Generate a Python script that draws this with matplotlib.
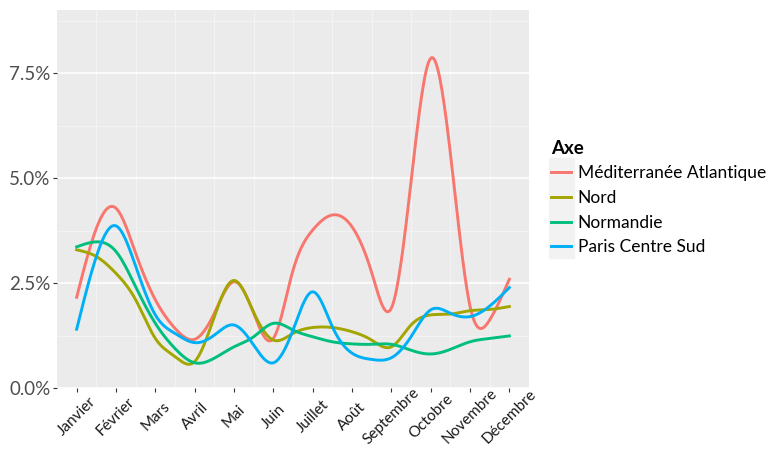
import numpy as np
import matplotlib.pyplot as plt
from matplotlib.patches import Rectangle
from matplotlib.ticker import FuncFormatter, MultipleLocator

# Valeurs (en %), à chaque mois et à chaque demi-mois
mois = ['Janvier', 'Février', 'Mars', 'Avril', 'Mai', 'Juin', 'Juillet',
        'Août', 'Septembre', 'Octobre', 'Novembre', 'Décembre']
position = np.arange(1, 12.5, 0.5)
axes_noms = ['Méditerranée Atlantique', 'Nord', 'Normandie', 'Paris Centre Sud']
mediterranee = [2.16, 3.80, 4.28, 3.21, 2.10, 1.42, 1.16, 1.78, 2.53, 1.78, 1.18, 2.80,
                3.76, 4.12, 3.84, 2.75, 1.90, 4.90, 7.85, 5.60, 1.95, 1.62, 2.59]
nord = [3.29, 3.13, 2.73, 2.10, 1.18, 0.75, 0.63, 1.70, 2.56, 1.80, 1.14, 1.30,
        1.44, 1.44, 1.34, 1.14, 0.98, 1.50, 1.74, 1.76, 1.84, 1.87, 1.94]
normandie = [3.36, 3.48, 3.25, 2.41, 1.54, 0.94, 0.60, 0.71, 0.98, 1.22, 1.54, 1.38,
             1.22, 1.10, 1.05, 1.04, 1.04, 0.90, 0.81, 0.92, 1.10, 1.18, 1.24]
paris = [1.40, 3.13, 3.86, 2.90, 1.74, 1.30, 1.08, 1.26, 1.50, 1.02, 0.60, 1.38,
         2.29, 1.46, 0.83, 0.68, 0.72, 1.22, 1.86, 1.78, 1.70, 1.95, 2.39]
couleurs = ['#F8766D', '#A3A500', '#00BF7D', '#00B0F6']


def spline_naturelle(x, y, n=400):
    # spline cubique naturelle, juste pour lisser le tracé
    x = np.asarray(x, float)
    y = np.asarray(y, float)
    k = len(x)
    h = np.diff(x)
    A = np.zeros((k, k))
    b = np.zeros(k)
    A[0, 0] = A[-1, -1] = 1
    for i in range(1, k - 1):
        A[i, i - 1] = h[i - 1]
        A[i, i] = 2 * (h[i - 1] + h[i])
        A[i, i + 1] = h[i]
        b[i] = 3 * ((y[i + 1] - y[i]) / h[i] - (y[i] - y[i - 1]) / h[i - 1])
    c = np.linalg.solve(A, b)
    xs = np.linspace(x[0], x[-1], n)
    idx = np.clip(np.searchsorted(x, xs) - 1, 0, k - 2)
    dx = xs - x[idx]
    bb = (y[idx + 1] - y[idx]) / h[idx] - h[idx] * (2 * c[idx] + c[idx + 1]) / 3
    d = (c[idx + 1] - c[idx]) / (3 * h[idx])
    ys = y[idx] + bb * dx + c[idx] * dx ** 2 + d * dx ** 3
    return xs, ys


plt.rcParams['font.family'] = ['Lato', 'DejaVu Sans']
fig = plt.figure(figsize=(7.71, 4.49), dpi=100)
ax = fig.add_axes([57 / 771, 1 - 388 / 449, 472 / 771, 378 / 449])
ax.set_facecolor('#EBEBEB')

for nom, serie, coul in zip(axes_noms, [mediterranee, nord, normandie, paris], couleurs):
    xs, ys = spline_naturelle(position, serie)
    ax.plot(xs, ys, color=coul, lw=2.1, label=nom, zorder=3)

ax.set_xlim(0.5, 12.5)
ax.set_ylim(0, 9.0)
ax.set_xticks(np.arange(1, 13))
ax.set_xticklabels(mois, rotation=45, ha='center', va='center',
                   rotation_mode='anchor', fontsize=11, color='#1A1A1A')
ax.yaxis.set_major_locator(MultipleLocator(2.5))
ax.yaxis.set_minor_locator(MultipleLocator(1.25))
ax.xaxis.set_minor_locator(plt.FixedLocator(np.arange(1.5, 12.5, 1)))
ax.yaxis.set_major_formatter(FuncFormatter(lambda v, p: f'{v:.1f}%'))
ax.tick_params(axis='y', labelsize=13.5, labelcolor='#4D4D4D', color='#333333',
               length=3, pad=1.5)
ax.tick_params(axis='x', color='#333333', length=3, pad=17.5)
ax.tick_params(which='minor', length=0)
ax.grid(True, which='major', axis='y', color='white', lw=1.1)
ax.grid(True, which='minor', axis='y', color='#F5F5F5', lw=0.6)
ax.grid(True, which='minor', axis='x', color='#F5F5F5', lw=0.6)
ax.set_axisbelow(True)
for s in ax.spines.values():
    s.set_visible(False)

# fond gris des clés de légende (style ggplot)
fig.patches.append(Rectangle((549 / 771, 1 - 258 / 449), 25 / 771, 100 / 449,
                             transform=fig.transFigure, color='#F2F2F2', zorder=0))

leg = fig.legend(loc='upper left', bbox_to_anchor=(542 / 771, 1 - 131 / 449),
                 frameon=False, title='Axe', fontsize=12.5, title_fontsize=13.5,
                 alignment='left', borderpad=0, handlelength=1.15, handletextpad=0.4,
                 labelspacing=0.5)
leg.get_title().set_fontweight('bold')

plt.savefig('out.png', dpi=100)
